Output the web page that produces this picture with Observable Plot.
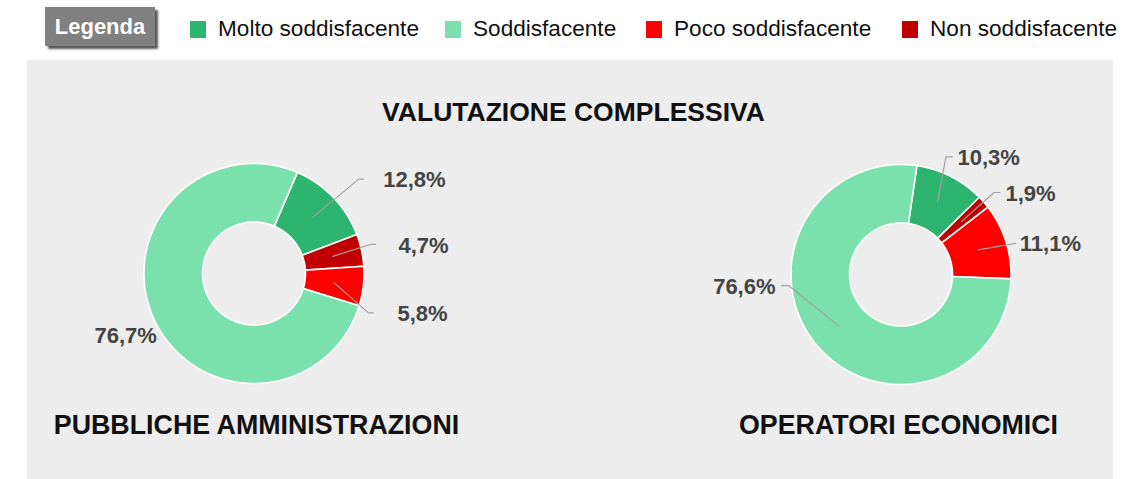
<!DOCTYPE html>
<html>
<head>
<meta charset="utf-8">
<script src="https://cdn.jsdelivr.net/npm/d3@7"></script>
<script src="https://cdn.jsdelivr.net/npm/@observablehq/plot@0.6"></script>
<style>
  html, body { margin: 0; padding: 0; background: #ffffff; }
  body { width: 1140px; height: 479px; position: relative; overflow: hidden;
         font-family: "Liberation Sans", Arial, sans-serif; }
  #legendTitle { position: absolute; left: 45px; top: 7px; width: 110px; height: 39px;
    background: #808080; box-shadow: 3px 3px 2px #5a5a5a; color: #fff; font-weight: bold;
    font-size: 22px; display: flex; align-items: center; justify-content: center; }
  .item { position: absolute; top: 17px; height: 24px; display: flex; align-items: center;
    font-size: 22.6px; color: #111; white-space: nowrap; }
  .sw { width: 16px; height: 17px; margin-right: 12px; }
  #chart { position: absolute; left: 27px; top: 60px; }
</style>
</head>
<body>
<div id="legendTitle">Legenda</div>
<div id="legend"></div>
<div id="chart"></div>
<script>
// ---------- data ----------
const categories = ["Molto soddisfacente", "Soddisfacente", "Poco soddisfacente", "Non soddisfacente"];
const paValues = [12.8, 76.7, 5.8, 4.7];   // Pubbliche Amministrazioni
const oeValues = [10.3, 76.6, 11.1, 1.9];  // Operatori Economici
const sliceOrder = ["Molto soddisfacente", "Non soddisfacente", "Poco soddisfacente", "Soddisfacente"];
const titleText = "VALUTAZIONE COMPLESSIVA";
const chartNames = ["PUBBLICHE AMMINISTRAZIONI", "OPERATORI ECONOMICI"];

// ---------- style / layout ----------
const colors = ["#2db56f", "#7ae0ac", "#ff0000", "#c00000"];
const legendLeft = [190, 445, 646, 902];
const W = 1086, H = 419;
const outerR = 110, innerR = 51.5;
const donuts = [
  { name: chartNames[0], values: paValues, cx: 226.5, cy: 213, start: 23.2, nameDx: 2.5,
    labels: { // elbow angle (deg), elbow radius, horizontal line, gap, line shown
      "Molto soddisfacente": { a: 48, r: 141, h: 4.5, g: 20, line: true },
      "Non soddisfacente":   { a: 76, r: 120, h: 5, g: 23, line: true },
      "Poco soddisfacente":  { a: 109, r: 121, h: 5, g: 24, line: true },
      "Soddisfacente":       { a: 237.5, r: 114, h: 0, g: 1, line: false, side: -1 }
    } },
  { name: chartNames[1], values: oeValues, cx: 873.5, cy: 214, start: 8.3, nameDx: -2.5,
    labels: {
      "Molto soddisfacente": { a: 20.9, r: 126, h: 6.5, g: 5, line: true },
      "Non soddisfacente":   { a: 48.6, r: 124, h: 6, g: 5.5, line: true },
      "Poco soddisfacente":  { a: 74.8, r: 119, h: 0, g: 4, line: true },
      "Soddisfacente":       { a: 264.4, r: 113, h: 7, g: 6, line: true, side: -1 }
    } }
];

// legend
const legend = document.getElementById("legend");
categories.forEach((c, i) => {
  const d = document.createElement("div");
  d.className = "item";
  d.style.left = legendLeft[i] + "px";
  d.innerHTML = `<div class="sw" style="background:${colors[i]}"></div><span>${c}</span>`;
  legend.appendChild(d);
});

// ---------- geometry from data ----------
const rad = (deg) => deg * Math.PI / 180;
const polar = (cx, cy, r, deg) => [cx + r * Math.sin(rad(deg)), cy - r * Math.cos(rad(deg))];
const fmt = (v) => v.toFixed(1).replace(".", ",") + "%";

const slicePts = [], leaderPts = [], labelsR = [], labelsL = [], names = [];
donuts.forEach((dn, di) => {
  const val = (c) => dn.values[categories.indexOf(c)];
  const total = d3.sum(dn.values);
  let a = dn.start;
  sliceOrder.forEach((c) => {
    const v = val(c);
    const a0 = a, a1 = a + v / total * 360;
    a = a1;
    const id = di + "-" + c;
    const n = Math.max(2, Math.ceil((a1 - a0) / 0.5) + 1);
    const ring = [];
    for (let k = 0; k < n; k++) ring.push(polar(dn.cx, dn.cy, outerR, a0 + (a1 - a0) * k / (n - 1)));
    for (let k = n - 1; k >= 0; k--) ring.push(polar(dn.cx, dn.cy, innerR, a0 + (a1 - a0) * k / (n - 1)));
    ring.push(ring[0]);
    ring.forEach(([x, y]) => slicePts.push({ id, cat: c, x, y }));

    const L = dn.labels[c];
    const side = L.side || 1;
    const mid = (a0 + a1) / 2;
    const [sx, sy] = polar(dn.cx, dn.cy, (outerR + innerR) / 2, mid);
    const [ex, ey] = polar(dn.cx, dn.cy, L.r, L.a);
    const hx = ex + side * L.h;
    if (L.line) {
      [[sx, sy], [ex, ey], [hx, ey]].forEach(([x, y]) => leaderPts.push({ id, x, y }));
    }
    const lab = { x: hx + side * L.g, y: ey + 1, text: fmt(v) };
    (side > 0 ? labelsR : labelsL).push(lab);
  });
  names.push({ x: dn.cx + dn.nameDx, y: 365, text: dn.name });
});

const chart = Plot.plot({
  width: W, height: H, margin: 0,
  x: { domain: [0, W], range: [0, W], axis: null },
  y: { domain: [0, H], range: [0, H], axis: null },
  color: { domain: categories, range: colors },
  style: { background: "#ededed", fontFamily: "'Liberation Sans', Arial, sans-serif", overflow: "visible" },
  marks: [
    Plot.line(slicePts, { x: "x", y: "y", z: "id", fill: "cat", stroke: "#ffffff", strokeWidth: 1.6, strokeLinejoin: "round", curve: "linear" }),
    Plot.line(leaderPts, { x: "x", y: "y", z: "id", stroke: "#a2a2a2", strokeWidth: 1.2 }),
    Plot.text(labelsR, { x: "x", y: "y", text: "text", textAnchor: "start", fontSize: 22, fontWeight: "bold", fill: "#444" }),
    Plot.text(labelsL, { x: "x", y: "y", text: "text", textAnchor: "end", fontSize: 22, fontWeight: "bold", fill: "#444" }),
    Plot.text([titleText], { x: W / 2 + 3, y: 52, text: d => d, fontSize: 26.5, fontWeight: "bold", fill: "#111" }),
    Plot.text(names, { x: "x", y: "y", text: "text", fontSize: 26.8, fontWeight: "bold", fill: "#111" })
  ]
});
document.getElementById("chart").appendChild(chart);
</script>
</body>
</html>
